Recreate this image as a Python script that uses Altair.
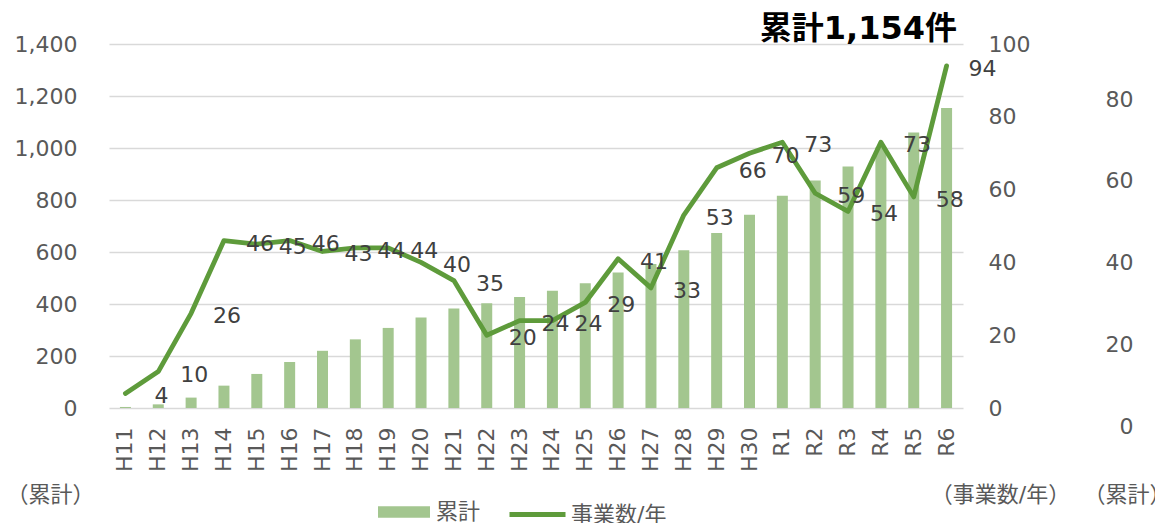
import altair as alt
import pandas as pd

years = ["H11", "H12", "H13", "H14", "H15", "H16", "H17", "H18", "H19", "H20",
         "H21", "H22", "H23", "H24", "H25", "H26", "H27", "H28", "H29", "H30",
         "R1", "R2", "R3", "R4", "R5", "R6"]
annual = [4, 10, 26, 46, 45, 46, 43, 44, 44, 40, 35, 20, 24, 24, 29, 41, 33,
          53, 66, 70, 73, 59, 54, 73, 58, 94]
cumulative = [4, 14, 40, 86, 131, 177, 220, 264, 308, 348, 383, 403, 427, 451,
              480, 521, 554, 607, 673, 743, 816, 875, 929, 1002, 1060, 1154]
left_ticks = [0, 200, 400, 600, 800, 1000, 1200, 1400]
right_ticks = [0, 20, 40, 60, 80, 100]
third_ticks = [0, 20, 40, 60, 80]
title_text = "累計1,154件"
bar_name = "累計"
line_name = "事業数/年"
left_unit = "（累計）"
right_unit = "（事業数/年）"
third_unit = "（累計）"

df = pd.DataFrame({"year": years, "annual": annual, "cum": cumulative,
                   "bar_name": bar_name, "line_name": line_name})

FONT = "DejaVu Sans, Noto Sans CJK JP"
GRAY = "#595959"
BAR = "#a3c68f"
LINE = "#5e9b3b"
FS = 22

def xenc():
    return alt.X("year:N", sort=years,
                 scale=alt.Scale(paddingInner=0, paddingOuter=0),
                 axis=alt.Axis(title=None, labelAngle=270, labelPadding=19, ticks=False,
                               domain=False, grid=False, labelFontSize=FS,
                               labelColor=GRAY, labelFont=FONT))

common_title = dict(titleAngle=0, titleAlign="center", titleBaseline="middle",
                    titleFontSize=FS, titleFontWeight="normal", titleColor=GRAY,
                    titleFont=FONT, titleY=450)

bars = alt.Chart(df).mark_bar(size=11).encode(
    x=xenc(),
    y=alt.Y("cum:Q", scale=alt.Scale(domain=[0, 1400], nice=False),
            axis=alt.Axis(orient="left", values=left_ticks, format=",d",
                          title=left_unit, titleX=-59, labelPadding=32,
                          ticks=False, domain=False, grid=True,
                          gridColor="#d9d9d9", gridWidth=1.5,
                          labelFontSize=FS, labelColor=GRAY, labelFont=FONT,
                          **common_title)),
    color=alt.Color("bar_name:N", scale=alt.Scale(range=[BAR]),
                    legend=alt.Legend(orient="none", legendX=269, legendY=455,
                                      title=None, direction="horizontal",
                                      symbolType="M-1,-0.45H3V0.45H-1Z",
                                      symbolSize=676, symbolStrokeWidth=0,
                                      labelOffset=32, labelFontSize=FS,
                                      labelColor=GRAY, labelFont=FONT, padding=0)),
)

line = alt.Chart(df).mark_line(strokeWidth=4.8, strokeCap="round",
                               strokeJoin="round").encode(
    x=xenc(),
    y=alt.Y("annual:Q", scale=alt.Scale(domain=[0, 100], nice=False),
            axis=alt.Axis(orient="right", values=right_ticks, format="d",
                          title=right_unit,
                          titleX=37, labelPadding=25, ticks=False, domain=False,
                          grid=False, labelFontSize=FS, labelColor=GRAY,
                          labelFont=FONT, **common_title)),
    stroke=alt.Stroke("line_name:N", scale=alt.Scale(range=[LINE]),
                      legend=alt.Legend(orient="none", legendX=398, legendY=440,
                                        title=None, direction="horizontal",
                                        symbolType="stroke", symbolSize=3136,
                                        symbolStrokeWidth=5, labelOffset=3,
                                        labelFontSize=FS, labelColor=GRAY,
                                        labelFont=FONT, padding=0)),
)

labels = alt.Chart(df).mark_text(dx=36, dy=3, fontSize=FS, color="#404040",
                                 font=FONT).encode(
    x=xenc(),
    y=alt.Y("annual:Q", scale=alt.Scale(domain=[0, 100], nice=False), axis=None),
    text=alt.Text("annual:Q"),
)

third = alt.Chart(df).mark_point(opacity=0).encode(
    x=xenc(),
    y=alt.Y("annual:Q", scale=alt.Scale(domain=[0, 100], range=[382, -26.6], nice=False),
            axis=alt.Axis(orient="right", values=third_ticks, format="d",
                          labelAlign="right",
                          labelPadding=170, tickSize=0, ticks=False, domain=False,
                          grid=False, title=third_unit, titleX=164,
                          labelFontSize=FS, labelColor=GRAY, labelFont=FONT,
                          **common_title)),
)

chart = alt.layer(bars, line, labels, third).resolve_scale(
    y="independent"
).properties(
    width=854, height=364,
    autosize=alt.AutoSizeParams(type="none"),
    padding={"left": 101, "top": 36, "right": 192, "bottom": 130},
    title=alt.Title(title_text, anchor="end", frame="group", fontSize=32,
                    fontWeight="bold", color="black", font=FONT, dx=-6,
                    offset=-38, baseline="alphabetic"),
).configure_view(stroke=None)

chart.save("out.html", embed_options={"renderer": "svg", "actions": False})
